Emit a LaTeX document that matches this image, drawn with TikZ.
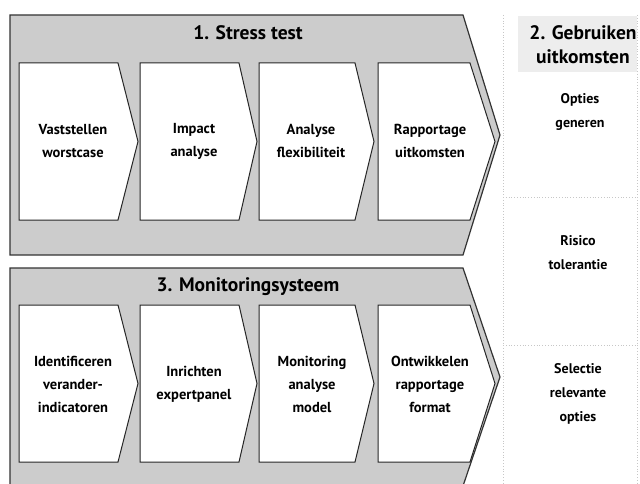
\documentclass[tikz,border=0pt]{standalone}
\usepackage{fontspec}
\setmainfont{PT Sans}
\usepackage{tikz}
\usetikzlibrary{positioning,calc}

\begin{document}
\begin{tikzpicture}[x=1pt,y=-1pt,
    panel/.style={draw=black!80,line width=1.2pt,fill=black!20},
    stepbox/.style={draw=black!85,line width=1pt,fill=white},
    steptext/.style={align=center,font=\fontsize{14.5}{23}\selectfont\bfseries},
    titletext/.style={font=\fontsize{19.5}{24}\selectfont\bfseries},
    sidetext/.style={align=center,font=\fontsize{14}{24}\selectfont\bfseries},
    faint/.style={draw=black!22,dotted,line width=0.8pt}]
\useasboundingbox (0,0) rectangle (640,484);
\clip (0,0) rectangle (640,484);

% column 2, faint frame
\fill[black!7] (518,16) rectangle (637,72);
\draw[faint] (503,15) -- (503,484) (637,15) -- (637,484);
\draw[faint] (503,197) -- (637,197) (503,345) -- (637,345);

% outer panels
\draw[panel] (10,15) -- (463,15) -- (500,135) -- (463,255) -- (10,255) -- cycle;
\draw[panel] (10,268) -- (463,268) -- (500,377) -- (463,486) -- (10,486) -- cycle;

% steps
\foreach \ya/\yb in {63/220,305/462}{
  \foreach \l/\s/\t in {19/118/138,140/239/257,259/355/374,378/470/495}{
    \draw[stepbox] (\l,\ya) -- (\s,\ya) -- (\t,{(\ya+\yb)/2}) -- (\s,\yb) -- (\l,\yb) -- cycle;
  }
}

\node[titletext] (stress) at (248,33) {1. Stress test};
\node[titletext] (monitor) at (248,287) {3. Monitoringsysteem};

\foreach \name/\x/\txt in {s1/73/{Vaststellen\\worstcase},s2/194/{Impact\\analyse},
    s3/311/{Analyse\\flexibiliteit},s4/430/{Rapportage\\uitkomsten}}
  \node[steptext] (\name) at (\x,141) {\txt};
\foreach \name/\x/\txt in {m1/73/{Identificeren\\verander-\\indicatoren},m2/194/{Inrichten\\expertpanel},
    m3/312/{Monitoring\\analyse\\model},m4/430/{Ontwikkelen\\rapportage\\format}}
  \node[steptext] (\name) at (\x,384) {\txt};

% column 2
\node[titletext,align=center] (gebruik) at (583,45) {2. Gebruiken\\uitkomsten};
\node[sidetext] (opties) at (580,112) {Opties\\generen};
\node[sidetext] (risico) at (578,253) {Risico\\tolerantie};
\node[sidetext] (selectie) at (578,394) {Selectie\\relevante\\opties};
\end{tikzpicture}
\end{document}
